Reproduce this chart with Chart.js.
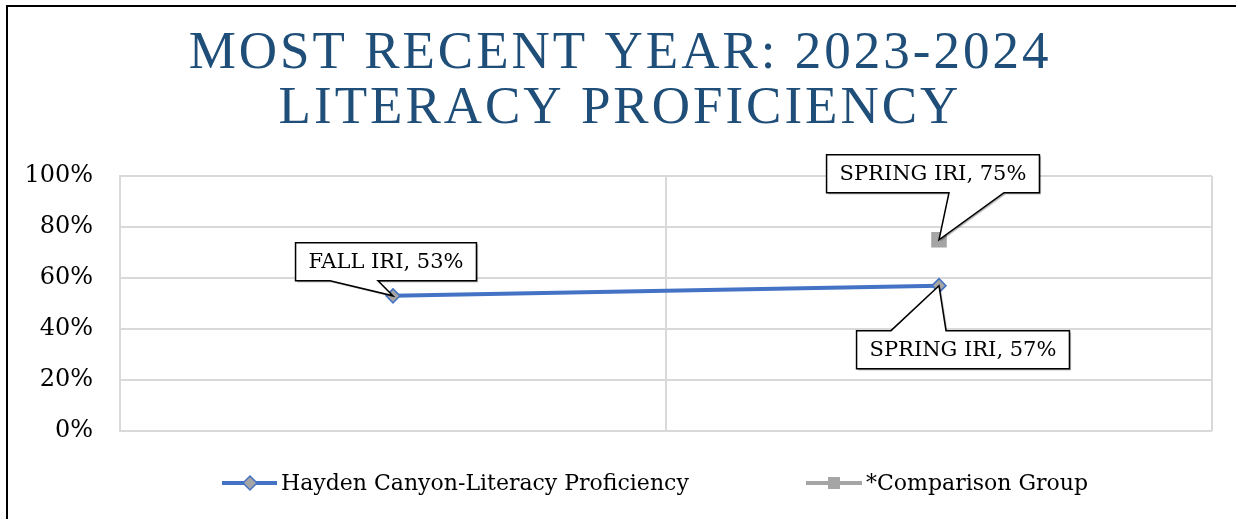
<!DOCTYPE html>
<html>
<head>
<meta charset="utf-8">
<script src="https://cdn.jsdelivr.net/npm/chart.js@4/dist/chart.umd.min.js"></script>
<style>
  html, body { margin: 0; padding: 0; background: #fff; }
  #wrap { position: relative; width: 1236px; height: 519px; overflow: hidden; }
  #frame { position: absolute; left: 6px; top: 5px; width: 1300px; height: 600px;
           border-left: 2px solid #000; border-top: 2px solid #000; }
  canvas { position: absolute; left: 0; top: 0; }
</style>
</head>
<body>
<div id="wrap">
  <div id="frame"></div>
  <canvas id="chart" width="1236" height="519"></canvas>
</div>
<script>
// chart data
const titleLines = ["MOST RECENT YEAR: 2023-2024", "LITERACY PROFICIENCY"];
const categories = ["FALL IRI", "SPRING IRI"];
const haydenValues = [53, 57];
const comparisonValues = [null, 75];
const seriesNames = ["Hayden Canyon-Literacy Proficiency", "*Comparison Group"];
const yMin = 0, yMax = 100, yStep = 20;

const BLUE = "#4472C4";
const GRAY = "#A5A5A5";
const GRID = "#D9D9D9";
const FONT = "'DejaVu Serif', serif";

// callout placement per point: box centre offset from the point, pointer base (x offsets from point)
const callouts = {
  "0-0": { dx: -7, dy: -34, side: "bottom", base: [-63, -15] },
  "0-1": { dx: 24, dy: 64, side: "top", base: [-48, 7] },
  "1-1": { dx: -6, dy: -66, side: "bottom", base: [10, 65] }
};

const titlePlugin = {
  id: "bigTitle",
  afterDraw(chart) {
    const ctx = chart.ctx;
    ctx.save();
    ctx.fillStyle = "#1F4E79";
    ctx.font = "53px 'Liberation Serif', serif";
    ctx.textAlign = "center";
    ctx.textBaseline = "alphabetic";
    if ("letterSpacing" in ctx) ctx.letterSpacing = "3px";
    ctx.fillText(titleLines[0], 620, 68);
    ctx.fillText(titleLines[1], 620, 123);
    ctx.restore();
  }
};

const calloutPlugin = {
  id: "callouts",
  afterDatasetsDraw(chart) {
    const ctx = chart.ctx;
    ctx.save();
    ctx.font = "21px " + FONT;
    chart.data.datasets.forEach((ds, di) => {
      const meta = chart.getDatasetMeta(di);
      meta.data.forEach((pt, i) => {
        const v = ds.data[i];
        const c = callouts[di + "-" + i];
        if (v == null || !c) return;
        const text = categories[i] + ", " + v + "%";
        const w = ctx.measureText(text).width + 26;
        const h = 38;
        const cx = pt.x + c.dx, cy = pt.y + c.dy;
        const l = cx - w / 2, r = cx + w / 2, t = cy - h / 2, b = cy + h / 2;
        const b1 = pt.x + c.base[0], b2 = pt.x + c.base[1];
        ctx.beginPath();
        if (c.side === "bottom") {
          ctx.moveTo(l, t); ctx.lineTo(r, t); ctx.lineTo(r, b);
          ctx.lineTo(b2, b); ctx.lineTo(pt.x, pt.y); ctx.lineTo(b1, b);
          ctx.lineTo(l, b); ctx.closePath();
        } else {
          ctx.moveTo(l, t); ctx.lineTo(b1, t); ctx.lineTo(pt.x, pt.y); ctx.lineTo(b2, t);
          ctx.lineTo(r, t); ctx.lineTo(r, b); ctx.lineTo(l, b); ctx.closePath();
        }
        ctx.shadowColor = "rgba(0,0,0,0.35)";
        ctx.shadowOffsetX = 1.5; ctx.shadowOffsetY = 1.5; ctx.shadowBlur = 1;
        ctx.fillStyle = "#fff";
        ctx.fill();
        ctx.shadowColor = "transparent";
        ctx.lineWidth = 1.5;
        ctx.strokeStyle = "#000";
        ctx.stroke();
        ctx.fillStyle = "#000";
        ctx.textAlign = "center";
        ctx.textBaseline = "middle";
        ctx.fillText(text, cx, cy + 1);
      });
    });
    ctx.restore();
  }
};

const legendPlugin = {
  id: "lineLegend",
  afterDraw(chart) {
    const ctx = chart.ctx;
    const y = 483;
    ctx.save();
    ctx.font = "22px " + FONT;
    ctx.textBaseline = "middle";
    ctx.fillStyle = "#000";
    // series 1: line with diamond
    ctx.strokeStyle = BLUE; ctx.lineWidth = 4;
    ctx.beginPath(); ctx.moveTo(222, y); ctx.lineTo(277, y); ctx.stroke();
    ctx.beginPath();
    ctx.moveTo(250, y - 7); ctx.lineTo(257, y); ctx.lineTo(250, y + 7); ctx.lineTo(243, y); ctx.closePath();
    ctx.fillStyle = GRAY; ctx.fill();
    ctx.lineWidth = 1.5; ctx.strokeStyle = BLUE; ctx.stroke();
    ctx.fillStyle = "#000";
    ctx.fillText(seriesNames[0], 281, y + 1);
    // series 2: line with square
    ctx.strokeStyle = GRAY; ctx.lineWidth = 4;
    ctx.beginPath(); ctx.moveTo(806, y); ctx.lineTo(862, y); ctx.stroke();
    ctx.fillStyle = GRAY;
    ctx.fillRect(828, y - 6, 12, 12);
    ctx.fillStyle = "#000";
    ctx.fillText(seriesNames[1], 866, y + 1);
    ctx.restore();
  }
};

new Chart(document.getElementById("chart"), {
  type: "line",
  data: {
    labels: categories,
    datasets: [
      {
        label: seriesNames[0],
        data: haydenValues,
        borderColor: BLUE,
        borderWidth: 4,
        pointStyle: "rectRot",
        pointRadius: 7,
        pointBackgroundColor: GRAY,
        pointBorderColor: BLUE,
        pointBorderWidth: 1.5,
        tension: 0
      },
      {
        label: seriesNames[1],
        data: comparisonValues,
        borderColor: GRAY,
        backgroundColor: GRAY,
        borderWidth: 4,
        pointStyle: "rect",
        pointRadius: 11,
        pointBackgroundColor: GRAY,
        pointBorderWidth: 0
      }
    ]
  },
  options: {
    responsive: false,
    animation: false,
    devicePixelRatio: 1,
    layout: { padding: { top: 176, right: 24, bottom: 88, left: 0 } },
    plugins: {
      legend: { display: false },
      title: { display: false },
      tooltip: { enabled: false }
    },
    scales: {
      x: {
        offset: true,
        grid: { offset: true, color: GRID, lineWidth: 2, drawTicks: false },
        border: { display: false },
        ticks: { display: false }
      },
      y: {
        min: yMin,
        max: yMax,
        afterFit(scale) { scale.width = 120; },
        grid: { color: GRID, lineWidth: 2, drawTicks: false },
        border: { color: GRID, width: 2 },
        ticks: {
          stepSize: yStep,
          padding: 27,
          color: "#000",
          font: { family: FONT, size: 24 },
          callback: v => v + "%"
        }
      }
    }
  },
  plugins: [titlePlugin, calloutPlugin, legendPlugin]
});
</script>
</body>
</html>
